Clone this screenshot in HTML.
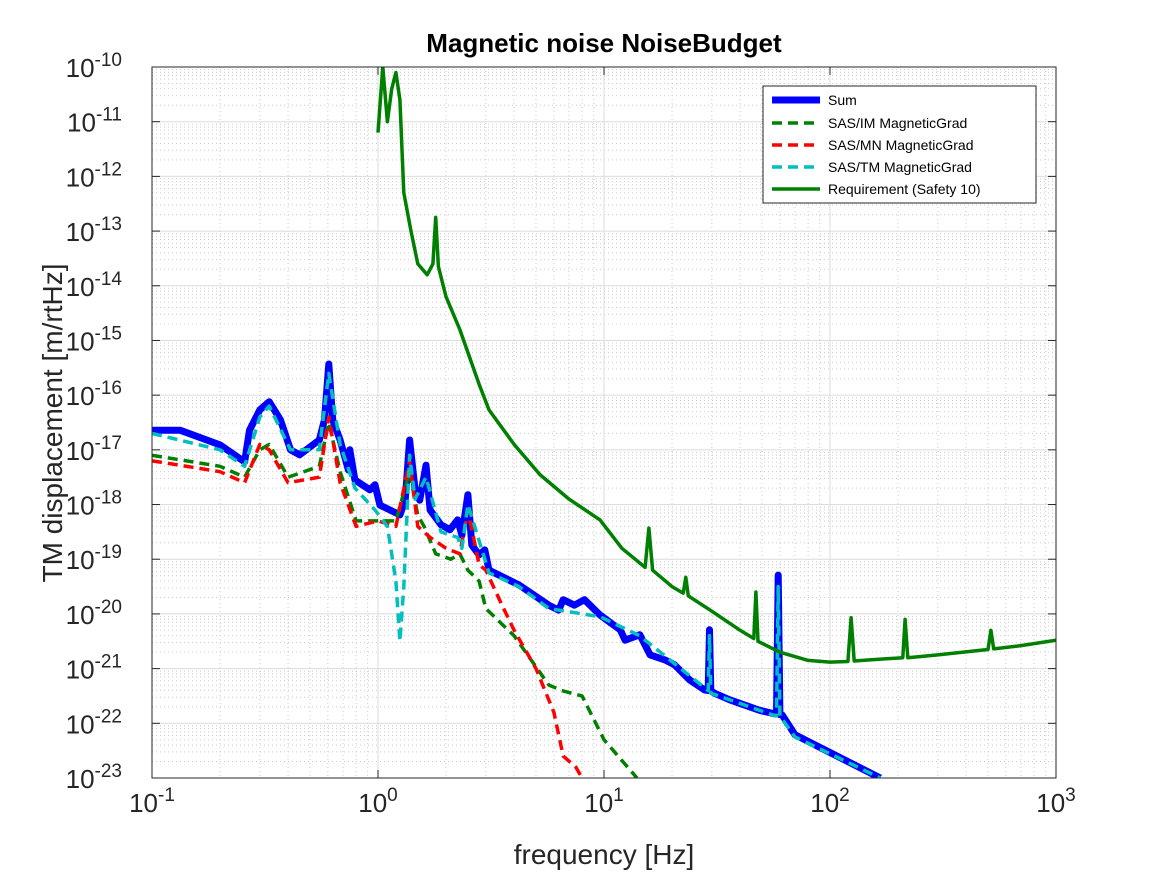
<!DOCTYPE html>
<html><head><meta charset="utf-8"><style>
body{margin:0;background:#fff;font-family:"Liberation Sans",sans-serif}
</style></head><body>
<svg id="chart" width="1167" height="875" xmlns="http://www.w3.org/2000/svg" font-family="Liberation Sans, sans-serif">
<rect width="1167" height="875" fill="#fff"/>
<g id="grid"></g><g id="series"></g><g id="axes"></g>
</svg>
<script>
const xTickExps=[-1,0,1,2,3];
const yTickExps=[-23,-22,-21,-20,-19,-18,-17,-16,-15,-14,-13,-12,-11,-10];
const sumF=[0.1,0.133,0.2,0.257,0.27,0.3,0.33,0.37,0.41,0.45,0.55,0.58,0.606,0.63,0.68,0.74,0.75,0.79,0.92,0.97,1.02,1.25,1.32,1.38,1.46,1.53,1.63,1.7,1.9,2.08,2.25,2.35,2.5,2.6,2.8,2.97,3.1,4.2,5.7,6.3,6.6,7.4,8.2,9.6,11.8,12.4,14.4,16,18.6,20.5,24,27.8,28.9,29.3,29.7,30.8,36,48.6,56,58,59,60,61.5,70,167];
const sumL=[-16.64,-16.64,-16.91,-17.22,-16.64,-16.27,-16.12,-16.45,-17.0,-17.09,-16.82,-16.45,-15.43,-16.45,-16.82,-17.37,-17.0,-17.55,-17.73,-17.64,-18.01,-18.19,-17.92,-16.82,-17.73,-17.92,-17.28,-18.1,-18.37,-18.46,-18.28,-18.56,-17.82,-18.74,-18.92,-18.83,-19.2,-19.47,-19.84,-19.93,-19.74,-19.84,-19.74,-20.02,-20.29,-20.48,-20.38,-20.75,-20.84,-20.93,-21.21,-21.39,-21.4,-20.29,-21.4,-21.45,-21.57,-21.76,-21.82,-21.83,-19.29,-21.84,-21.85,-22.21,-23.0];
const tmF=[0.1,0.2,0.257,0.3,0.33,0.41,0.55,0.606,0.68,0.79,0.97,1.1,1.2,1.25,1.3,1.38,1.46,1.63,1.9,2.25,2.35,2.5,2.97,3.1,4.2,5.7,9.6,14.4,28.9,29.3,29.7,56,58,59,60,70,167];
const tmL=[-16.7,-17.0,-17.3,-16.4,-16.2,-17.0,-17.0,-15.6,-16.9,-17.7,-18.1,-18.4,-19.4,-20.5,-19.5,-17.1,-17.9,-17.5,-18.5,-18.6,-18.8,-18.0,-19.0,-19.25,-19.5,-19.9,-20.05,-20.4,-21.4,-20.4,-21.45,-21.85,-21.86,-19.5,-21.87,-22.25,-23.0];
const imF=[0.1,0.2,0.257,0.3,0.33,0.4,0.55,0.606,0.68,0.8,1.0,1.2,1.38,1.5,1.6,1.8,2.1,2.3,2.5,2.8,3.0,4.0,5.7,6.5,8.0,10,14];
const imL=[-17.1,-17.3,-17.5,-17.0,-16.9,-17.5,-17.3,-16.5,-17.4,-18.3,-18.3,-18.3,-17.4,-18.2,-18.4,-18.9,-19.0,-18.9,-19.2,-19.4,-19.9,-20.4,-21.3,-21.4,-21.5,-22.3,-23.0];
const mnF=[0.1,0.2,0.257,0.3,0.33,0.4,0.55,0.606,0.68,0.8,1.0,1.2,1.38,1.5,1.7,2.0,2.3,2.5,2.8,3.0,3.5,4.0,5.0,6.0,6.6,7.5,8.0];
const mnL=[-17.2,-17.4,-17.6,-16.9,-17.0,-17.6,-17.5,-16.4,-17.6,-18.4,-18.3,-18.4,-17.2,-18.4,-18.6,-18.8,-18.9,-18.1,-19.1,-19.2,-19.8,-20.3,-21.0,-21.8,-22.6,-22.8,-23.0];
const reqF=[1.0,1.05,1.1,1.15,1.2,1.25,1.3,1.4,1.5,1.65,1.75,1.8,1.85,2.0,2.3,2.8,3.1,4,5.2,7,9.6,12,15.2,15.8,16.4,20,22.4,23,23.6,30,40,46,47,48,60,80,100,120,124,128,150,210,215,221,300,500,515,530,700,1000];
const reqL=[-11.2,-10.0,-11.0,-10.4,-10.1,-10.6,-12.3,-13.0,-13.6,-13.8,-13.6,-12.75,-13.65,-14.2,-14.8,-15.8,-16.27,-16.9,-17.45,-17.9,-18.28,-18.8,-19.15,-18.43,-19.2,-19.5,-19.62,-19.33,-19.67,-19.95,-20.3,-20.45,-19.6,-20.5,-20.7,-20.85,-20.88,-20.87,-20.07,-20.86,-20.84,-20.8,-20.1,-20.8,-20.75,-20.65,-20.3,-20.64,-20.58,-20.48];
const X0=152,X1=1056,Y0=67,Y1=778;
const xs=f=>X0+(Math.log10(f)+1)/4*(X1-X0);
const ys=l=>Y0+(-10-l)/13*(Y1-Y0);
const NS="http://www.w3.org/2000/svg";
function mk(tag,at,parent){const e=document.createElementNS(NS,tag);for(const k in at)e.setAttribute(k,at[k]);parent.appendChild(e);return e;}
const grid=document.getElementById('grid'),ser=document.getElementById('series'),ax=document.getElementById('axes');
mk('rect',{x:X0,y:Y0,width:X1-X0,height:Y1-Y0,fill:'#fff'},grid);
for(let d=-1;d<3;d++)for(let m=2;m<10;m++){const x=xs(m*Math.pow(10,d));const l=mk('line',{x1:x,x2:x,y1:Y0,y2:Y1,stroke:'#ccc','stroke-dasharray':'1,3','stroke-width':1},grid);}
for(let d=-23;d<-10;d++)for(let m=2;m<10;m++){const y=ys(d+Math.log10(m));const l=mk('line',{x1:X0,x2:X1,y1:y,y2:y,stroke:'#ccc','stroke-dasharray':'1,3','stroke-width':1},grid);}
xTickExps.forEach(e=>{const x=xs(Math.pow(10,e));const l=mk('line',{x1:x,x2:x,y1:Y0,y2:Y1,stroke:'#dcdcdc'},grid);
mk('line',{x1:x,x2:x,y1:Y1,y2:Y1-8,stroke:'#262626'},ax);mk('line',{x1:x,x2:x,y1:Y0,y2:Y0+8,stroke:'#262626'},ax);
const t=mk('text',{x:x,y:812,'text-anchor':'middle','font-size':26,fill:'#262626'},ax);t.innerHTML='10<tspan dy="-11" font-size="19">'+(e<0?'-'+(-e):e)+'</tspan>';});
yTickExps.forEach(e=>{const y=ys(e);const l=mk('line',{x1:X0,x2:X1,y1:y,y2:y,stroke:'#dcdcdc'},grid);
mk('line',{x1:X0,x2:X0+8,y1:y,y2:y,stroke:'#262626'},ax);mk('line',{x1:X1,x2:X1-8,y1:y,y2:y,stroke:'#262626'},ax);
const t=mk('text',{x:122,y:y+10,'text-anchor':'end','font-size':26,fill:'#262626'},ax);t.innerHTML='10<tspan dy="-11" font-size="19">'+e+'</tspan>';});
const fr=mk('rect',{x:X0,y:Y0,width:X1-X0,height:Y1-Y0,fill:'none',stroke:'#262626'},ax);
const clip=mk('clipPath',{id:'pc'},ser);mk('rect',{x:X0,y:Y0,width:X1-X0,height:Y1-Y0},clip);
function line(F,L,col,w,dash,name){const p=mk('path',{d:F.map((f,i)=>(i?'L':'M')+xs(f).toFixed(1)+','+ys(L[i]).toFixed(1)).join(''),fill:'none',stroke:col,'stroke-width':w,'stroke-dasharray':dash||'none','stroke-linejoin':'round','clip-path':'url(#pc)'},ser);}
line(sumF,sumL,'#0000ff',7,null,'sum-line');
line(imF,imL,'#008000',3.5,'10,6','sas-im-line');
line(mnF,mnL,'#ff0000',3.5,'10,6','sas-mn-line');
line(tmF,tmL,'#00bfbf',3.5,'10,6','sas-tm-line');
line(reqF,reqL,'#008000',3.5,null,'requirement-line');
</script>
<svg style="position:absolute;left:0;top:0" width="1167" height="875" font-family="Liberation Sans, sans-serif">
<text x="604" y="52" text-anchor="middle" font-size="26" font-weight="bold" fill="#000">Magnetic noise NoiseBudget</text>
<text x="604" y="864" text-anchor="middle" font-size="28" fill="#262626">frequency [Hz]</text>
<text transform="translate(62,423) rotate(-90)" text-anchor="middle" font-size="28" fill="#262626">TM displacement [m/rtHz]</text>
<g>
<rect x="763" y="86" width="273" height="117" fill="#fff" stroke="#262626"/>
<line x1="772" x2="820" y1="100" y2="100" stroke="#0000ff" stroke-width="7"/><text x="828" y="105" font-size="14">Sum</text>
<line x1="772" x2="820" y1="123" y2="123" stroke="#008000" stroke-width="3.5" stroke-dasharray="10,6"/><text x="828" y="128" font-size="14">SAS/IM MagneticGrad</text>
<line x1="772" x2="820" y1="145" y2="145" stroke="#ff0000" stroke-width="3.5" stroke-dasharray="10,6"/><text x="828" y="150" font-size="14">SAS/MN MagneticGrad</text>
<line x1="772" x2="820" y1="167" y2="167" stroke="#00bfbf" stroke-width="3.5" stroke-dasharray="10,6"/><text x="828" y="172" font-size="14">SAS/TM MagneticGrad</text>
<line x1="772" x2="820" y1="189" y2="189" stroke="#008000" stroke-width="3.5"/><text x="828" y="194" font-size="14">Requirement (Safety 10)</text>
</g>
</svg>
</body></html>
